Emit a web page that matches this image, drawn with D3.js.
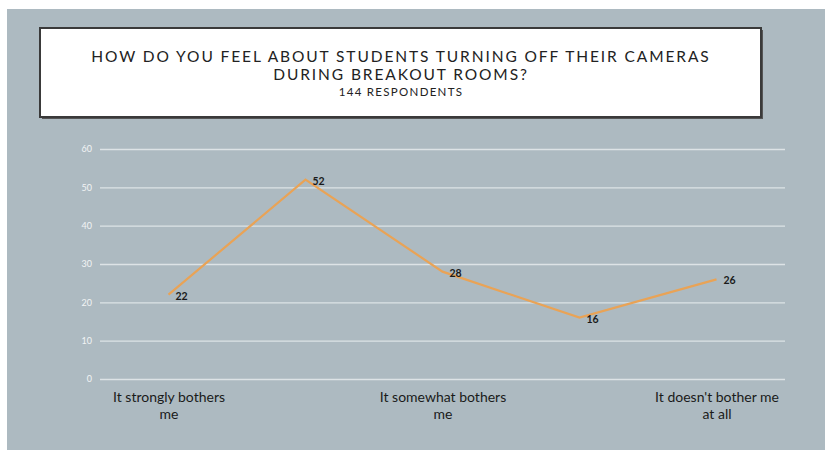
<!DOCTYPE html>
<html>
<head>
<meta charset="utf-8">
<style>
  body { margin: 0; background: #fff; }
  .tick text { font-family: "Lato", sans-serif; }
</style>
<script src="https://d3js.org/d3.v7.min.js"></script>
</head>
<body>
<svg width="825" height="450"></svg>
<script>
// answers (5 points, only every other label is shown on the axis)
var categories = ["It strongly bothers me", "It bothers me", "It somewhat bothers me", "It doesn't really bother me", "It doesn't bother me at all"];
var counts = [22, 52, 28, 16, 26];
var yTicks = [0, 10, 20, 30, 40, 50, 60];
var titleLines = ["HOW DO YOU FEEL ABOUT STUDENTS TURNING OFF THEIR CAMERAS", "DURING BREAKOUT ROOMS?"];
var subtitle = "144 RESPONDENTS";

var svg = d3.select("svg");

// slide background
svg.append("rect")
  .attr("x", 7).attr("y", 9)
  .attr("width", 818).attr("height", 441)
  .attr("fill", "#adbac1");

// title box
svg.append("rect")
  .attr("x", 42).attr("y", 30)
  .attr("width", 721).attr("height", 89)
  .attr("fill", "#555");
svg.append("rect")
  .attr("x", 40).attr("y", 28)
  .attr("width", 721).attr("height", 89)
  .attr("fill", "#fff")
  .attr("stroke", "#3a3a3a")
  .attr("stroke-width", 2);

var title = svg.append("text")
  .attr("text-anchor", "middle")
  .attr("font-family", "Lato, sans-serif")
  .attr("fill", "#222")
  .attr("letter-spacing", "1.9px");
title.selectAll("tspan")
  .data(titleLines).enter()
  .append("tspan")
  .attr("x", 401)
  .attr("y", function(d, i) { return 62 + i * 18; })
  .attr("font-size", "15.5px")
  .text(function(d) { return d; });
svg.append("text")
  .attr("x", 401).attr("y", 96)
  .attr("text-anchor", "middle")
  .attr("font-family", "Lato, sans-serif")
  .attr("font-size", "11.5px")
  .attr("letter-spacing", "1.3px")
  .attr("fill", "#222")
  .text(subtitle);

var plotLeft = 100, plotRight = 785, plotTop = 149, plotBottom = 379;

var x = d3.scalePoint()
  .domain(categories)
  .range([plotLeft, plotRight])
  .padding(0.5);

var y = d3.scaleLinear()
  .domain([0, 60])
  .range([plotBottom, plotTop]);

// gridlines + y labels
var yAxis = svg.append("g")
  .attr("transform", "translate(" + plotLeft + ",0)")
  .call(d3.axisLeft(y).tickValues(yTicks).tickSize(-(plotRight - plotLeft)).tickPadding(8));
yAxis.select(".domain").remove();
yAxis.selectAll(".tick line").attr("stroke", "#dde3e6").attr("stroke-width", 1.3);
yAxis.selectAll(".tick text").attr("fill", "#f2f4f5").attr("font-size", "9px");

// x labels
var xAxis = svg.append("g")
  .attr("transform", "translate(0," + plotBottom + ")")
  .call(d3.axisBottom(x).tickSize(0).tickFormat(function(d, i) { return i % 2 === 0 ? d : ""; }));
xAxis.select(".domain").remove();
xAxis.selectAll(".tick text")
  .attr("fill", "#1a1a1a")
  .attr("font-size", "14px")
  .each(function(d, i) {
    var t = d3.select(this);
    if (i % 2 !== 0) return;
    // wrap into two lines the way the slide does
    var words = d.split(" ");
    var first, second;
    if (d === "It doesn't bother me at all") { first = "It doesn't bother me"; second = "at all"; }
    else { first = words.slice(0, -1).join(" "); second = words[words.length - 1]; }
    t.text(null).attr("y", 0);
    t.append("tspan").attr("x", 0).attr("dy", "23px").text(first);
    t.append("tspan").attr("x", 0).attr("dy", "17px").text(second);
  });

// line
var line = d3.line()
  .x(function(d, i) { return x(categories[i]); })
  .y(function(d) { return y(d); });

svg.append("path")
  .datum(counts)
  .attr("d", line)
  .attr("fill", "none")
  .attr("stroke", "#e9a356")
  .attr("stroke-width", 2.2);

// data labels
svg.selectAll(".lbl")
  .data(counts).enter()
  .append("text")
  .attr("class", "lbl")
  .attr("x", function(d, i) { return x(categories[i]) + 7; })
  .attr("y", function(d) { return y(d) + 5; })
  .attr("font-family", "Lato, sans-serif")
  .attr("font-size", "10.5px")
  .attr("font-weight", "bold")
  .attr("fill", "#1a1a1a")
  .text(function(d) { return d; });
</script>
</body>
</html>
